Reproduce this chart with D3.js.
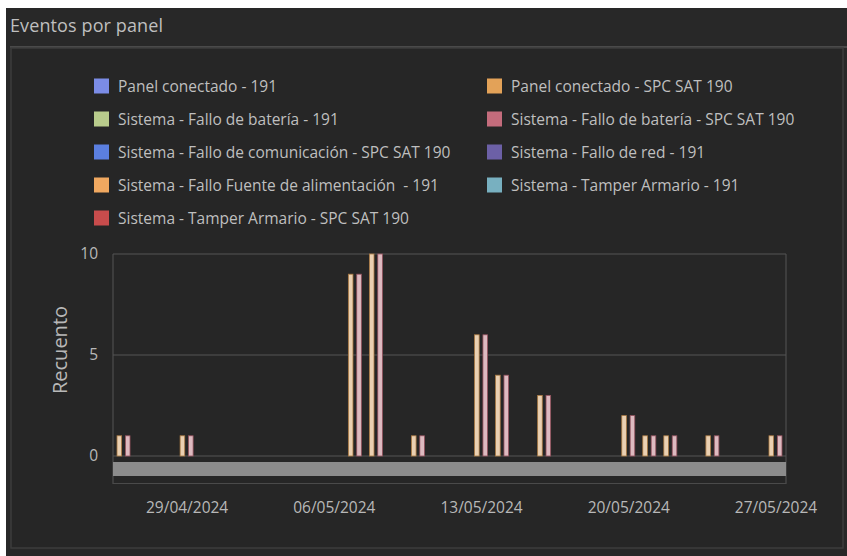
<!DOCTYPE html>
<html><head><meta charset="utf-8">
<script src="https://cdn.jsdelivr.net/npm/d3@7"></script>
<style>
html,body{margin:0;padding:0;background:#fff;}
svg{display:block;font-family:"Open Sans","Noto Sans",sans-serif;}
</style></head>
<body>
<script>
const legendLabels = [
  "Panel conectado - 191",
  "Panel conectado - SPC SAT 190",
  "Sistema - Fallo de batería - 191",
  "Sistema - Fallo de batería - SPC SAT 190",
  "Sistema - Fallo de comunicación - SPC SAT 190",
  "Sistema - Fallo de red - 191",
  "Sistema - Fallo Fuente de alimentación  - 191",
  "Sistema - Tamper Armario - 191",
  "Sistema - Tamper Armario - SPC SAT 190"
];
const legendColors = ["#7b8ce6","#e3a258","#b9cc8c","#c46c7c","#5b7fe0","#6c60a6","#f0a860","#78b0c0","#c84c4c"];

const dates = ["2024-04-26","2024-04-29","2024-05-07","2024-05-08","2024-05-10","2024-05-13","2024-05-14","2024-05-16","2024-05-20","2024-05-21","2024-05-22","2024-05-24","2024-05-27"];
const panelSAT = [1,1,9,10,1,6,4,3,2,1,1,1,1];
const bateriaSAT = [1,1,9,10,1,6,4,3,2,1,1,1,1];
const barSeries = [
  {name:"Panel conectado - SPC SAT 190", values:panelSAT, color:"#e3a258"},
  {name:"Sistema - Fallo de batería - SPC SAT 190", values:bateriaSAT, color:"#c46c7c"}
];
const yTicks = [0,5,10];
const xTickDates = ["2024-04-29","2024-05-06","2024-05-13","2024-05-20","2024-05-27"];
const xDomain = ["2024-04-25T12:00","2024-05-27T12:00"];

const W = 847, H = 556;
const svg = d3.select("body").append("svg").attr("width",W).attr("height",H);
svg.append("rect").attr("width",W).attr("height",H).attr("fill","#ffffff");
svg.append("rect").attr("x",6).attr("y",8).attr("width",W-6).attr("height",H-8).attr("fill","#282828");
svg.append("text").attr("x",10).attr("y",32).attr("fill","#bfbfbf").attr("font-size",18).attr("textLength",153).text("Eventos por panel");
svg.append("line").attr("x1",10).attr("x2",W).attr("y1",47).attr("y2",47).attr("stroke","#4a4a4a").attr("stroke-width",2);
svg.append("rect").attr("x",11).attr("y",48).attr("width",832).attr("height",500).attr("fill","#262626").attr("stroke","#3c3c3c").attr("stroke-width",1.5);

// legend
const lg = svg.append("g");
legendLabels.forEach((l,i)=>{
  const col = i%2, row = Math.floor(i/2);
  const x = col===0 ? 94 : 487, y = 86 + row*33;
  lg.append("rect").attr("x",x).attr("y",y-7.5).attr("width",15).attr("height",15).attr("fill",legendColors[i]);
  lg.append("text").attr("x",x+24).attr("y",y+5.5).attr("fill","#bfbfbf").attr("font-size",15.5)
    .style("white-space","pre").attr("xml:space","preserve").text(l);
});

const parse = d3.timeParse("%Y-%m-%d");
const parseT = d3.timeParse("%Y-%m-%dT%H:%M");
const x = d3.scaleTime().domain(xDomain.map(parseT)).range([113,786]);
const y = d3.scaleLinear().domain([0,10]).range([456,254]);
const sub = d3.scaleBand().domain(barSeries.map(s=>s.name)).range([-6.5,6.5]).paddingInner(0.45);

// grid
const g = svg.append("g");
g.selectAll(".grid").data(yTicks).join("line")
  .attr("x1",113).attr("x2",786).attr("y1",d=>y(d)).attr("y2",d=>y(d))
  .attr("stroke","#555").attr("stroke-width",1.2);
g.append("line").attr("x1",113).attr("x2",113).attr("y1",254).attr("y2",484).attr("stroke","#555");
g.append("line").attr("x1",786).attr("x2",786).attr("y1",254).attr("y2",484).attr("stroke","#555");

// y axis
const yAxis = svg.append("g").attr("transform","translate(98,0)")
  .call(d3.axisLeft(y).tickValues(yTicks).tickSize(0).tickPadding(0));
yAxis.select(".domain").remove();
yAxis.selectAll("text").attr("fill","#b8b8b8").attr("font-size",15.5).attr("font-family","Open Sans, Noto Sans, sans-serif");
svg.append("text").attr("transform","translate(67,350) rotate(-90)").attr("text-anchor","middle")
  .attr("fill","#b8b8b8").attr("font-size",20).text("Recuento");

// bars
barSeries.forEach(s=>{
  const fill = d3.interpolateRgb(s.color,"#eeeeee")(0.6);
  svg.append("g").selectAll("rect").data(dates.map((d,i)=>({d:parse(d),v:s.values[i]}))).join("rect")
    .attr("x",d=>x(d.d)+sub(s.name))
    .attr("width",sub.bandwidth())
    .attr("y",d=>y(d.v))
    .attr("height",d=>y(0)-y(d.v))
    .attr("fill",fill).attr("stroke",d3.color(s.color).darker(0.8)).attr("stroke-width",0.8);
});

// scroll bar
svg.append("rect").attr("x",113).attr("y",462).attr("width",673).attr("height",14).attr("fill","#8c8c8c");
svg.append("line").attr("x1",113).attr("x2",786).attr("y1",483.5).attr("y2",483.5).attr("stroke","#4a4a4a");

// x axis
const xAxis = svg.append("g").attr("transform","translate(0,502)")
  .call(d3.axisBottom(x).tickValues(xTickDates.map(parse)).tickFormat(d3.timeFormat("%d/%m/%Y")).tickSize(0).tickPadding(0));
xAxis.select(".domain").remove();
xAxis.selectAll("text").attr("fill","#b8b8b8").attr("font-size",15.5).attr("font-family","Open Sans, Noto Sans, sans-serif");
</script>
</body></html>
